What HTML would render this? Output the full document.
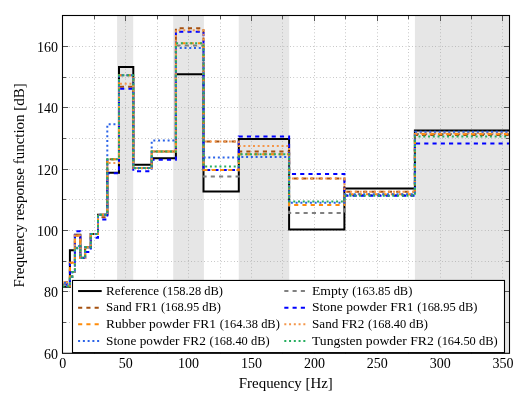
<!DOCTYPE html>
<html><head><meta charset="utf-8"><title>FRF</title>
<style>html,body{margin:0;padding:0;background:#fff;}svg{display:block;will-change:transform;}text{font-family:"Liberation Serif",serif;fill:#000;}</style>
</head><body>
<svg width="520" height="397" viewBox="0 0 520 397">
<rect x="0" y="0" width="520" height="397" fill="#ffffff"/>
<rect x="117.1" y="15.5" width="16.10" height="337.80" fill="#e6e6e6"/>
<rect x="173.2" y="15.5" width="30.70" height="337.80" fill="#e6e6e6"/>
<rect x="238.75" y="15.5" width="50.45" height="337.80" fill="#e6e6e6"/>
<rect x="414.9" y="15.5" width="94.00" height="337.80" fill="#e6e6e6"/>
<path d="M94.50 353.3 V15.5 M125.50 353.3 V15.5 M157.50 353.3 V15.5 M188.50 353.3 V15.5 M220.50 353.3 V15.5 M251.50 353.3 V15.5 M282.50 353.3 V15.5 M314.50 353.3 V15.5 M345.50 353.3 V15.5 M377.50 353.3 V15.5 M408.50 353.3 V15.5 M440.50 353.3 V15.5 M471.50 353.3 V15.5 M502.50 353.3 V15.5 M62.5 322.50 H509.5 M62.5 291.50 H509.5 M62.5 261.50 H509.5 M62.5 230.50 H509.5 M62.5 199.50 H509.5 M62.5 169.50 H509.5 M62.5 138.50 H509.5 M62.5 107.50 H509.5 M62.5 77.50 H509.5 M62.5 46.50 H509.5" fill="none" stroke="#a4a4a4" stroke-width="1" stroke-dasharray="0.6 2.7"/>
<path d="M125.50 353.3 v-5.6 M125.50 15.5 v5.6 M188.50 353.3 v-5.6 M188.50 15.5 v5.6 M251.50 353.3 v-5.6 M251.50 15.5 v5.6 M314.50 353.3 v-5.6 M314.50 15.5 v5.6 M377.50 353.3 v-5.6 M377.50 15.5 v5.6 M440.50 353.3 v-5.6 M440.50 15.5 v5.6 M502.50 353.3 v-5.6 M502.50 15.5 v5.6 M62.5 291.50 h5.6 M509.5 291.50 h-5.6 M62.5 230.50 h5.6 M509.5 230.50 h-5.6 M62.5 169.50 h5.6 M509.5 169.50 h-5.6 M62.5 107.50 h5.6 M509.5 107.50 h-5.6 M62.5 46.50 h5.6 M509.5 46.50 h-5.6" fill="none" stroke="#555" stroke-width="1"/>
<path d="M94.50 353.3 v-3.7 M94.50 15.5 v3.7 M157.50 353.3 v-3.7 M157.50 15.5 v3.7 M220.50 353.3 v-3.7 M220.50 15.5 v3.7 M282.50 353.3 v-3.7 M282.50 15.5 v3.7 M345.50 353.3 v-3.7 M345.50 15.5 v3.7 M408.50 353.3 v-3.7 M408.50 15.5 v3.7 M471.50 353.3 v-3.7 M471.50 15.5 v3.7 M62.5 322.50 h3.7 M509.5 322.50 h-3.7 M62.5 261.50 h3.7 M509.5 261.50 h-3.7 M62.5 199.50 h3.7 M509.5 199.50 h-3.7 M62.5 138.50 h3.7 M509.5 138.50 h-3.7 M62.5 77.50 h3.7 M509.5 77.50 h-3.7" fill="none" stroke="#555" stroke-width="1"/>
<clipPath id="c"><rect x="62.5" y="15.5" width="447.00" height="337.80"/></clipPath>
<g clip-path="url(#c)" fill="none" stroke-width="2" stroke-linejoin="miter">
<path d="M62.50 286.77 H66.80 V286.77 H69.90 V250.28 H72.30 V250.28 H74.90 V234.65 H77.20 V234.65 H80.30 V257.64 H85.10 V247.22 H90.80 V234.03 H98.00 V214.72 H107.30 V172.71 H119.00 V66.94 H133.30 V164.74 H151.70 V158.30 H175.90 V74.29 H203.50 V191.42 H238.80 V138.99 H289.10 V229.43 H344.40 V188.50 H414.90 V130.56 H509.50" stroke="#000000"/>
<path d="M62.50 284.31 H66.80 V285.85 H69.90 V276.65 H72.30 V272.05 H74.90 V235.57 H77.20 V235.57 H80.30 V257.95 H85.10 V247.22 H90.80 V234.03 H98.00 V214.72 H107.30 V159.22 H119.00 V75.21 H133.30 V168.11 H151.70 V151.56 H175.90 V45.47 H203.50 V176.39 H238.80 V154.32 H289.10 V212.88 H344.40 V195.09 H414.90 V134.08 H509.50" stroke="#808080" stroke-dasharray="4.13 4.13"/>
<path d="M62.50 286.46 H66.80 V285.85 H69.90 V262.85 H72.30 V262.85 H74.90 V235.57 H77.20 V235.57 H80.30 V257.95 H85.10 V247.22 H90.80 V234.03 H98.00 V217.17 H107.30 V159.22 H119.00 V86.86 H133.30 V168.11 H151.70 V151.56 H175.90 V28.30 H203.50 V141.59 H238.80 V151.56 H289.10 V178.54 H344.40 V191.72 H414.90 V135.00 H509.50" stroke="#a5500f" stroke-dasharray="4.13 4.13" stroke-dashoffset="-4.35"/>
<path d="M62.50 282.17 H66.80 V284.31 H69.90 V262.85 H72.30 V262.85 H74.90 V231.27 H77.20 V231.27 H80.30 V257.95 H85.10 V252.12 H90.80 V237.71 H98.00 V219.62 H107.30 V173.33 H119.00 V88.86 H133.30 V171.18 H151.70 V159.84 H175.90 V31.68 H203.50 V169.95 H238.80 V136.38 H289.10 V173.94 H344.40 V195.86 H414.90 V143.59 H509.50" stroke="#0000ff" stroke-dasharray="4.13 4.13" stroke-dashoffset="-3.0"/>
<path d="M62.50 282.17 H66.80 V285.85 H69.90 V262.85 H72.30 V262.85 H74.90 V235.57 H77.20 V235.57 H80.30 V257.95 H85.10 V247.22 H90.80 V234.03 H98.00 V214.72 H107.30 V159.22 H119.00 V75.21 H133.30 V168.11 H151.70 V151.56 H175.90 V43.33 H203.50 V169.95 H238.80 V154.32 H289.10 V204.91 H344.40 V194.17 H414.90 V133.93 H509.50" stroke="#ff8c0a" stroke-dasharray="4.13 4.13" stroke-dashoffset="-0.92"/>
<path d="M62.50 282.78 H66.80 V285.85 H69.90 V276.65 H72.30 V272.05 H74.90 V235.57 H77.20 V235.57 H80.30 V257.95 H85.10 V247.22 H90.80 V234.03 H98.00 V214.72 H107.30 V162.90 H119.00 V83.80 H133.30 V168.11 H151.70 V151.56 H175.90 V30.14 H203.50 V141.59 H238.80 V146.04 H289.10 V178.54 H344.40 V191.72 H414.90 V133.01 H509.50" stroke="#f4964a" stroke-dasharray="2 2.76" stroke-dashoffset="2.1"/>
<path d="M62.50 282.78 H66.80 V285.85 H69.90 V276.65 H72.30 V272.05 H74.90 V248.14 H77.20 V245.99 H80.30 V257.95 H85.10 V247.22 H90.80 V234.03 H98.00 V214.72 H107.30 V124.27 H119.00 V75.21 H133.30 V168.11 H151.70 V140.52 H175.90 V47.93 H203.50 V157.38 H238.80 V157.08 H289.10 V202.76 H344.40 V194.17 H414.90 V131.63 H509.50" stroke="#2a63e8" stroke-dasharray="2 2.76" stroke-dashoffset="-1.5"/>
<path d="M62.50 286.46 H66.80 V286.46 H69.90 V276.65 H72.30 V272.05 H74.90 V248.14 H77.20 V245.99 H80.30 V257.95 H85.10 V247.22 H90.80 V234.03 H98.00 V214.72 H107.30 V159.22 H119.00 V75.21 H133.30 V168.11 H151.70 V151.56 H175.90 V43.33 H203.50 V166.58 H238.80 V154.32 H289.10 V201.53 H344.40 V195.86 H414.90 V136.38 H509.50" stroke="#27ae60" stroke-dasharray="2 2.76"/>
</g>
<rect x="62.5" y="15.5" width="447.00" height="337.80" fill="none" stroke="#000" stroke-width="1.1"/>
<rect x="72.5" y="280.45" width="432.00" height="72.15" fill="#fff" stroke="#000" stroke-width="1.1"/>
<path d="M78.1 291.05 h23.6" stroke="#000000" stroke-width="2" fill="none"/>
<text x="106.0" y="294.65" font-size="13" textLength="53.10" lengthAdjust="spacingAndGlyphs">Reference</text>
<text x="162.80" y="294.65" font-size="13" textLength="60.1" lengthAdjust="spacingAndGlyphs">(158.28 dB)</text>
<path d="M78.1 307.7 h23.6" stroke="#a5500f" stroke-width="2" fill="none" stroke-dasharray="4.13 4.13"/>
<text x="106.0" y="311.30" font-size="13" textLength="51.20" lengthAdjust="spacingAndGlyphs">Sand FR1</text>
<text x="160.90" y="311.30" font-size="13" textLength="60.1" lengthAdjust="spacingAndGlyphs">(168.95 dB)</text>
<path d="M78.1 324.3 h23.6" stroke="#ff8c0a" stroke-width="2" fill="none" stroke-dasharray="4.13 4.13"/>
<text x="106.0" y="327.90" font-size="13" textLength="110.00" lengthAdjust="spacingAndGlyphs">Rubber powder FR1</text>
<text x="219.70" y="327.90" font-size="13" textLength="60.1" lengthAdjust="spacingAndGlyphs">(164.38 dB)</text>
<path d="M78.1 340.9 h23.6" stroke="#2a63e8" stroke-width="2" fill="none" stroke-dasharray="2 2.76"/>
<text x="106.0" y="344.50" font-size="13" textLength="99.80" lengthAdjust="spacingAndGlyphs">Stone powder FR2</text>
<text x="209.50" y="344.50" font-size="13" textLength="60.1" lengthAdjust="spacingAndGlyphs">(168.40 dB)</text>
<path d="M284.3 291.05 h23.6" stroke="#808080" stroke-width="2" fill="none" stroke-dasharray="4.13 4.13"/>
<text x="312.0" y="294.65" font-size="13" textLength="36.50" lengthAdjust="spacingAndGlyphs">Empty</text>
<text x="352.20" y="294.65" font-size="13" textLength="60.1" lengthAdjust="spacingAndGlyphs">(163.85 dB)</text>
<path d="M284.3 307.7 h23.6" stroke="#0000ff" stroke-width="2" fill="none" stroke-dasharray="4.13 4.13"/>
<text x="312.0" y="311.30" font-size="13" textLength="101.60" lengthAdjust="spacingAndGlyphs">Stone powder FR1</text>
<text x="417.30" y="311.30" font-size="13" textLength="60.1" lengthAdjust="spacingAndGlyphs">(168.95 dB)</text>
<path d="M284.3 324.3 h23.6" stroke="#f4964a" stroke-width="2" fill="none" stroke-dasharray="2 2.76"/>
<text x="312.0" y="327.90" font-size="13" textLength="52.20" lengthAdjust="spacingAndGlyphs">Sand FR2</text>
<text x="367.90" y="327.90" font-size="13" textLength="60.1" lengthAdjust="spacingAndGlyphs">(168.40 dB)</text>
<path d="M284.3 340.9 h23.6" stroke="#27ae60" stroke-width="2" fill="none" stroke-dasharray="2 2.76"/>
<text x="312.0" y="344.50" font-size="13" textLength="121.80" lengthAdjust="spacingAndGlyphs">Tungsten powder FR2</text>
<text x="437.50" y="344.50" font-size="13" textLength="60.1" lengthAdjust="spacingAndGlyphs">(164.50 dB)</text>
<text x="62.80" y="367.9" font-size="14" text-anchor="middle">0</text>
<text x="125.70" y="367.9" font-size="14" text-anchor="middle">50</text>
<text x="188.60" y="367.9" font-size="14" text-anchor="middle">100</text>
<text x="251.50" y="367.9" font-size="14" text-anchor="middle">150</text>
<text x="314.40" y="367.9" font-size="14" text-anchor="middle">200</text>
<text x="377.30" y="367.9" font-size="14" text-anchor="middle">250</text>
<text x="440.20" y="367.9" font-size="14" text-anchor="middle">300</text>
<text x="503.10" y="367.9" font-size="14" text-anchor="middle">350</text>
<text x="58.1" y="358.70" font-size="14" text-anchor="end">60</text>
<text x="58.1" y="296.70" font-size="14" text-anchor="end">80</text>
<text x="58.1" y="235.70" font-size="14" text-anchor="end">100</text>
<text x="58.1" y="174.70" font-size="14" text-anchor="end">120</text>
<text x="58.1" y="112.70" font-size="14" text-anchor="end">140</text>
<text x="58.1" y="51.70" font-size="14" text-anchor="end">160</text>
<text x="238.8" y="387.9" font-size="14.5" textLength="94" lengthAdjust="spacingAndGlyphs">Frequency [Hz]</text>
<text transform="translate(24.3 287.5) rotate(-90)" font-size="14.5" textLength="204.3" lengthAdjust="spacingAndGlyphs">Frequency response function [dB]</text>
</svg>
</body></html>
